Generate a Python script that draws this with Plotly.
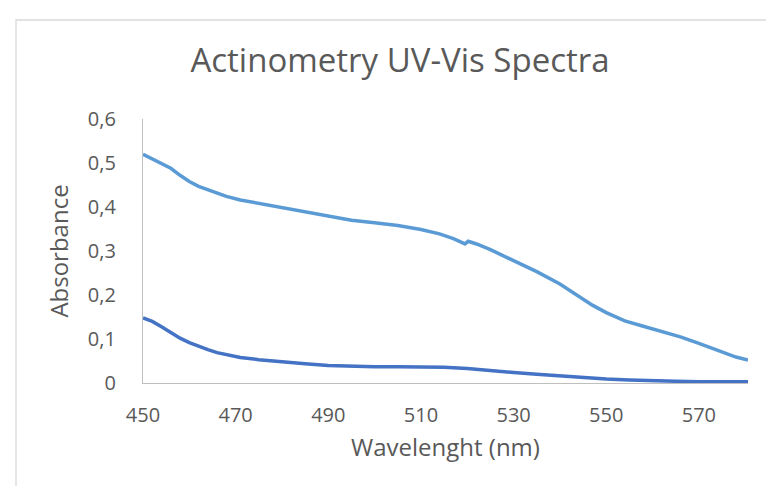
import plotly.graph_objects as go

# Upper (light blue) spectrum
wl_upper = [450, 452, 454, 456, 458, 460, 462, 465, 468, 471, 475, 480, 485, 490, 495,
            500, 505, 510, 514, 517, 519.5, 520.2, 522, 525, 530, 535, 540, 543, 547,
            550, 554, 558, 562, 566, 570, 574, 578, 580.6]
abs_upper = [0.520, 0.510, 0.498, 0.488, 0.472, 0.458, 0.447, 0.436, 0.424, 0.416, 0.408,
             0.399, 0.389, 0.378, 0.370, 0.364, 0.358, 0.349, 0.339, 0.328, 0.316, 0.322,
             0.316, 0.303, 0.278, 0.253, 0.225, 0.204, 0.177, 0.160, 0.141, 0.129, 0.118,
             0.105, 0.090, 0.074, 0.059, 0.052]

# Lower (dark blue) spectrum
wl_lower = [450, 452, 454, 456, 458, 460, 462, 464, 466, 468, 471, 475, 480, 485, 490, 495,
            500, 505, 510, 515, 520, 525, 530, 535, 540, 545, 550, 555, 560, 565, 570, 575, 580.6]
abs_lower = [0.148, 0.140, 0.128, 0.114, 0.102, 0.092, 0.083, 0.076, 0.069, 0.064, 0.058,
             0.053, 0.048, 0.044, 0.040, 0.038, 0.037, 0.037, 0.037, 0.036, 0.033, 0.028,
             0.024, 0.020, 0.016, 0.012, 0.009, 0.007, 0.005, 0.004, 0.003, 0.003, 0.003]

title_text = "Actinometry UV-Vis Spectra"
x_title = "Wavelenght (nm)"
y_title = "Absorbance"

FONT = "Open Sans"
GREY = "#595959"

fig = go.Figure()
fig.add_trace(go.Scatter(x=wl_upper, y=abs_upper, mode="lines",
                         line=dict(color="#5B9BD5", width=3.5), showlegend=False))
fig.add_trace(go.Scatter(x=wl_lower, y=abs_lower, mode="lines",
                         line=dict(color="#4472C4", width=3.5), showlegend=False))

L, R, T, B = 135, 34, 111, 111
W, H = 774, 486
pw, ph = W - L - R, H - T - B

def px_x(px):
    return (px - L) / pw

def px_y(py):
    return (H - B - py) / ph

fig.add_shape(type="rect", xref="paper", yref="paper",
              x0=px_x(8), x1=px_x(790), y0=px_y(500), y1=px_y(12),
              line=dict(color="#D9D9D9", width=1.3), layer="below")

fig.update_layout(
    width=W, height=H,
    margin=dict(l=L, r=R, t=T, b=B),
    paper_bgcolor="white", plot_bgcolor="white",
    separators=",.",
    font=dict(family=FONT, color=GREY, size=20),
    title=dict(text=title_text, x=392 / W, xref="container", xanchor="center",
               y=1 - 52 / H, yanchor="middle",
               font=dict(family=FONT, size=33, color=GREY)),
    showlegend=False,
)
fig.update_xaxes(range=[450, 580.6], tick0=450, dtick=20, showgrid=False, zeroline=False,
                 showline=True, linecolor="#BFBFBF", linewidth=1.3, ticks="",
                 ticklabelstandoff=14,
                 tickfont=dict(family=FONT, size=20, color=GREY),
                 title=dict(text=x_title, standoff=12,
                            font=dict(family=FONT, size=24, color=GREY)))
fig.update_yaxes(range=[0, 0.6], tick0=0, dtick=0.1, showgrid=False, zeroline=False,
                 showline=True, linecolor="#BFBFBF", linewidth=1.3, ticks="",
                 ticklabelstandoff=22,
                 tickfont=dict(family=FONT, size=20, color=GREY),
                 title=dict(text=y_title, standoff=12,
                            font=dict(family=FONT, size=24, color=GREY)))

fig.write_html("out.html")
